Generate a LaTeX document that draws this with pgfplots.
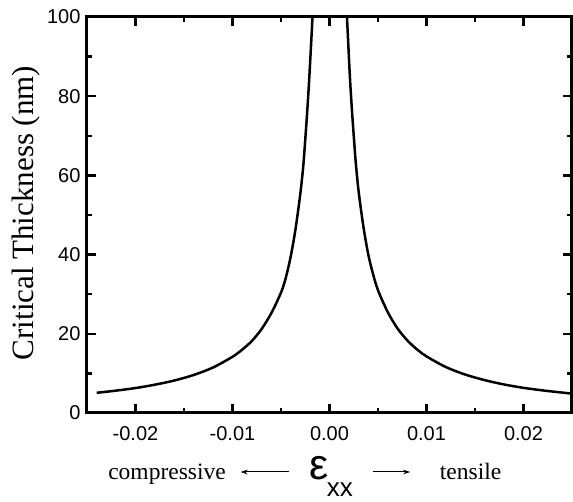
\documentclass[border=0pt]{standalone}
\usepackage{fontspec}
\setmainfont{Liberation Serif}
\newfontfamily\arial{Liberation Sans}
\usepackage{pgfplots}
\pgfplotsset{compat=1.18}
\usetikzlibrary{arrows.meta}

\begin{document}
\begin{tikzpicture}
  \useasboundingbox (-87pt,-89pt) rectangle (486pt,413pt);
  \begin{axis}[
      at={(0,0)}, anchor=south west,
      scale only axis, width=485pt, height=396pt,
      xmin=-0.025, xmax=0.025, ymin=0, ymax=100,
      xtick={-0.02,-0.01,0,0.01,0.02},
      xticklabels={-0.02,-0.01,0.00,0.01,0.02},
      scaled x ticks=false,
      minor xtick={-0.015,-0.005,0.005,0.015},
      ytick={0,20,...,100},
      minor ytick={10,30,50,70,90},
      tick align=inside,
      major tick length=9pt, minor tick length=5pt,
      axis line style={line width=3pt},
      every tick/.style={line width=2.5pt, black},
      tick label style={font=\arial\fontsize{20}{24}\selectfont},
      xticklabel style={yshift=-10pt},
      yticklabel style={xshift=-3pt},
      ylabel={Critical Thickness (nm)},
      ylabel style={font=\fontsize{31}{36}\selectfont,
        at={(axis description cs:-0.126,0.505)}, anchor=center},
      clip=false,
      /pgf/number format/assume math mode=true,
    ]
    % compressive branch
    \addplot[black, line width=2.5pt, smooth] coordinates {
      (-0.024,5.1) (-0.022,5.65) (-0.020,6.3) (-0.018,7.15) (-0.016,8.2)
      (-0.014,9.6) (-0.012,11.5) (-0.010,14.2) (-0.009,16.0) (-0.008,18.2)
      (-0.007,21.2) (-0.006,25.2) (-0.005,30.4) (-0.0045,34.2) (-0.004,39.5)
      (-0.0035,46.5) (-0.003,55.5) (-0.0027,62.5) (-0.0025,69) (-0.0023,76)
      (-0.0021,84) (-0.0019,93) (-0.00175,100)
    };
    % tensile branch
    \addplot[black, line width=2.5pt, smooth] coordinates {
      (0.0018,100) (0.0019,95) (0.0021,85) (0.0023,77) (0.0025,70)
      (0.0027,63.5) (0.003,56) (0.0035,47) (0.004,40) (0.0045,35)
      (0.005,31) (0.006,25.5) (0.007,21.4) (0.008,18.4) (0.009,16.1)
      (0.010,14.3) (0.012,11.6) (0.014,9.7) (0.016,8.3) (0.018,7.2)
      (0.020,6.35) (0.022,5.7) (0.024,5.15) (0.025,4.9)
    };

    % heavy frame
    \draw[line width=3pt, line join=miter] (rel axis cs:0,0) rectangle (rel axis cs:1,1);

    \node[anchor=base, yshift=-67pt, inner sep=0pt, font=\fontsize{23.5}{28}\selectfont]
      at (rel axis cs:0.165,0) {compressive};
    \node[anchor=base, yshift=-67pt, inner sep=0pt, font=\fontsize{23.5}{28}\selectfont]
      at (rel axis cs:0.791,0) {tensile};
    \node[anchor=base, yshift=-67pt, inner sep=0pt, font=\arial\fontsize{43}{46}\selectfont]
      at (rel axis cs:0.478,0) {ε};
    \node[anchor=base west, yshift=-84pt, inner sep=0pt, font=\arial\fontsize{26}{30}\selectfont]
      at (rel axis cs:0.494,0) {xx};
    \draw[-{Stealth[length=7pt,width=4.5pt]}, line width=1pt]
      ([yshift=-59pt]rel axis cs:0.4155,0) -- ([yshift=-59pt, xshift=-48pt]rel axis cs:0.4155,0);
    \draw[-{Stealth[length=7pt,width=4.5pt]}, line width=1pt]
      ([yshift=-59pt]rel axis cs:0.590,0) -- ([yshift=-59pt, xshift=37pt]rel axis cs:0.590,0);
  \end{axis}
\end{tikzpicture}
\end{document}
